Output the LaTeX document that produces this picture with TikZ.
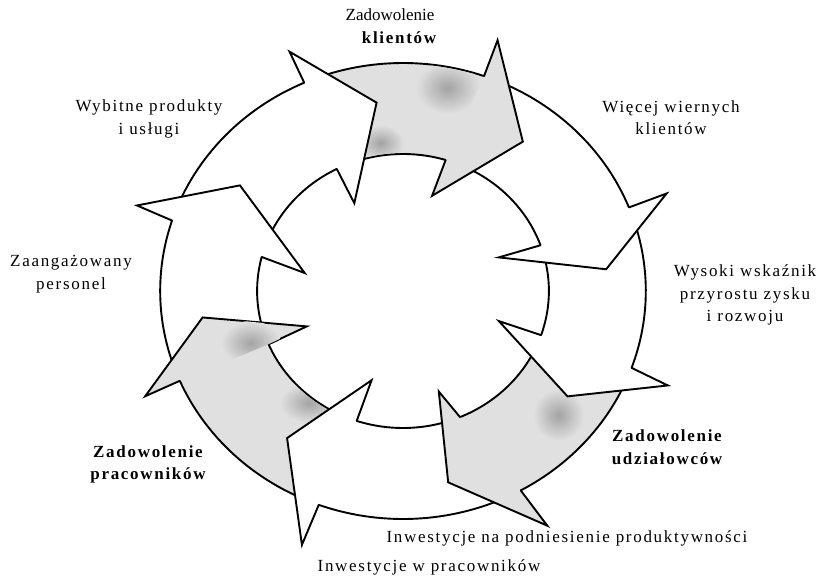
\documentclass[tikz,border=0pt]{standalone}
\usepackage{fontspec}
\setmainfont{Liberation Serif}
\newfontfamily\spacedserif[LetterSpace=10]{Liberation Serif}
\begin{document}
\begin{tikzpicture}[x=1pt,y=1pt,
  edge/.style={line width=1.9pt, line cap=round, line join=miter},
  lightfill/.style={fill=white},
  greyfill/.style={fill=black!12},
  blotch/.style={inner color=black!36, outer color=black!12},
  caption/.style={font=\fontsize{17}{22.5}\selectfont\spacedserif, align=center, inner sep=0pt},
  boldcaption/.style={font=\fontsize{17}{22.5}\selectfont\spacedserif\bfseries, align=center, inner sep=0pt},
  plaincaption/.style={font=\fontsize{17}{22.5}\selectfont, align=center, inner sep=0pt},
]
\useasboundingbox (-403,-287) rectangle (426,291);

\begin{scope}[xscale=1.065]
% curved bodies: outer start / inner start / outer neck / inner neck / fill
\foreach \so/\si/\eo/\ei/\f in {
    162/165.6/114/117/lightfill,
    114/117/70.5/73/greyfill,
    70.5/73/21.5/19.5/lightfill,
    21.5/19.5/-19.7/-18.8/lightfill,
    -19.7/-18.8/-61/-67/greyfill,
    -61/-67/-110.3/-108.5/lightfill,
    -110.3/-108.5/-156.8/-157.1/greyfill,
    -156.8/-157.1/-198/-194.4/lightfill} {
  \pgfmathsetmacro{\sa}{\so-1}
  \pgfmathsetmacro{\sb}{\si-1}
  \pgfmathsetmacro{\ea}{\eo-0.6}
  \pgfmathsetmacro{\eb}{\ei-0.6}
  \fill[\f] (\sa:228) arc[start angle=\sa, end angle=\ea, radius=228pt]
            -- (\eb:137) arc[start angle=\eb, end angle=\sb, radius=137pt] -- cycle;
  \draw[edge] (\sa:228) arc[start angle=\sa, end angle=\eo, radius=228pt];
  \draw[edge] (\sb:137) arc[start angle=\sb, end angle=\ei, radius=137pt];
}

% darker stains inside the grey bodies
\begin{scope}
  \clip (114:227) arc[start angle=114, end angle=70.5, radius=227pt]
        -- (73:138) arc[start angle=73, end angle=117, radius=138pt] -- cycle;
  \shade[blotch] (42,203) ellipse[x radius=30, y radius=26];
  \shade[blotch] (-21,148) ellipse[x radius=22, y radius=18];
\end{scope}
\begin{scope}
  \clip (-19.7:227) arc[start angle=-19.7, end angle=-61, radius=227pt]
        -- (-67:138) arc[start angle=-67, end angle=-18.8, radius=138pt] -- cycle;
  \shade[blotch] (146,-124) ellipse[x radius=24, y radius=26];
\end{scope}
\begin{scope}
  \clip (-110.3:227) arc[start angle=-110.3, end angle=-156.8, radius=227pt]
        -- (-157.1:138) arc[start angle=-157.1, end angle=-108.5, radius=138pt] -- cycle;
  \shade[blotch] (-88,-112) ellipse[x radius=28, y radius=20];
\end{scope}

% arrow heads: outer neck / inner neck / outer barb / tip / inner barb / fill
\foreach \eo/\ei/\ob/\obr/\tp/\tpr/\ib/\ibr/\f in {
    114/117/114/262/97.5/190/117.5/99/lightfill,
    70.5/73/70.5/266/53/187/74/99/greyfill,
    21.5/19.5/21.5/266/6.5/192/20.5/96/lightfill,
    -19.7/-18.8/-20.8/266/-34.3/187/-18.5/95/lightfill,
    -61/-67/-60/271/-77.5/196/-71.5/106/greyfill,
    -110.3/-108.5/-110.5/271/-126.5/183/-108.3/94/lightfill,
    -156.8/-157.1/-156.5/264/-172/190/-158.6/97/greyfill,
    -198/-194.4/-198.9/264/-214.6/186/-191/94/lightfill} {
  \fill[\f] (\eo:228) -- (\ob:\obr) -- (\tp:\tpr) -- (\ib:\ibr) -- (\ei:137) -- cycle;
  \draw[edge] (\eo:228) -- (\ob:\obr) -- (\tp:\tpr) -- (\ib:\ibr) -- (\ei:137);
}

% darker stain inside the left grey head
\begin{scope}
  \clip (-156.8:226) -- (-156.5:262) -- (-172:188) -- (-158.6:99) -- (-157.1:139) -- cycle;
  \shade[blotch] (-143,-52) ellipse[x radius=28, y radius=22];
\end{scope}
\end{scope}

% labels
\node[plaincaption] (zk1) at (-13,276) {Zadowolenie};
\node[boldcaption] (zk2) at (-4,253) {klientów};
\node[caption] (wpu) at (-254,172) {Wybitne produkty\\i usługi};
\node[caption] (wwk) at (268,173.5) {Więcej wiernych\\klientów};
\node[caption] (zp) at (-332,17) {Zaangażowany\\personel};
\node[caption] (wwp) at (342,-4) {Wysoki wskaźnik\\przyrostu zysku\\i rozwoju};
\node[boldcaption] (zu) at (264,-156) {Zadowolenie\\udziałowców};
\node[boldcaption] (zpr) at (-255,-173.5) {Zadowolenie\\pracowników};
\node[caption] (inp) at (164,-247) {Inwestycje na podniesienie produktywności};
\node[caption] (iwp) at (26,-276) {Inwestycje w pracowników};
\end{tikzpicture}
\end{document}
